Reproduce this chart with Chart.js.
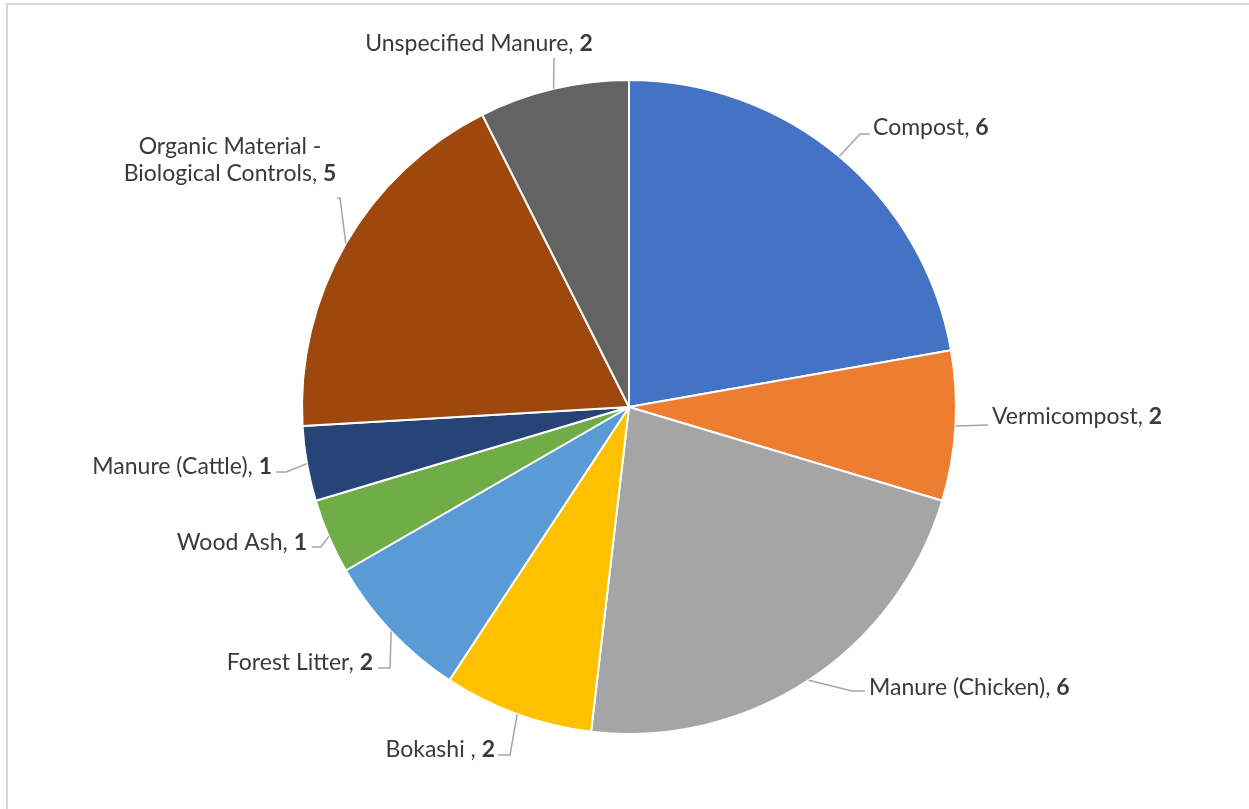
<!DOCTYPE html>
<html>
<head>
<meta charset="utf-8">
<script src="https://cdn.jsdelivr.net/npm/chart.js@4/dist/chart.umd.min.js"></script>
<style>
  html, body { margin: 0; padding: 0; background: #fff; }
  #wrap { width: 1249px; height: 809px; }
</style>
</head>
<body>
<div id="wrap"><canvas id="pie"></canvas></div>
<script>
// data
const categories = ['Compost', 'Vermicompost', 'Manure (Chicken)', 'Bokashi ', 'Forest Litter',
  'Wood Ash', 'Manure (Cattle)', 'Organic Material - Biological Controls', 'Unspecified Manure'];
const counts = [6, 2, 6, 2, 2, 1, 1, 5, 2];
const sliceColors = ['#4472C4', '#ED7D31', '#A5A5A5', '#FFC000', '#5B9BD5',
  '#70AD47', '#264478', '#9E480E', '#636363'];

// where each label sits: text anchor x, y (middle), align, and the leader line's bend points
const labelLayout = [
  { x: 873, y: 128, align: 'left',   bend: [[860, 134], [870, 134]] },
  { x: 992, y: 417, align: 'left',   bend: [[988, 425]] },
  { x: 869, y: 688, align: 'left',   bend: [[852, 691], [865, 691]] },
  { x: 495, y: 750, align: 'right',  bend: [[510, 755], [498, 755]] },
  { x: 373, y: 663, align: 'right',  bend: [[390, 668], [378, 668]] },
  { x: 307, y: 543, align: 'right',  bend: [[321, 547], [312, 547]] },
  { x: 272, y: 467, align: 'right',  bend: [[286, 472], [276, 472]] },
  { x: 230, y: 160, align: 'center', lines: ['Organic Material -', 'Biological Controls, '], bend: [[340, 198], [337, 198]] },
  { x: 479, y: 44,  align: 'center', bend: [[554, 58]] }
];

const FONT = 'Lato, "Open Sans", sans-serif';
const FONT_SIZE = 23;

// draws "Name, N" with the number bold
function drawLabel(ctx, lines, value, x, y, align) {
  const lineH = 27;
  const top = y - (lines.length - 1) * lineH / 2;
  lines.forEach((line, i) => {
    const isLast = i === lines.length - 1;
    ctx.font = FONT_SIZE + 'px ' + FONT;
    const w1 = ctx.measureText(line).width;
    ctx.font = 'bold ' + FONT_SIZE + 'px ' + FONT;
    const w2 = isLast ? ctx.measureText(String(value)).width : 0;
    const total = w1 + w2;
    let left = x;
    if (align === 'right') left = x - total;
    if (align === 'center') left = x - total / 2;
    const ly = top + i * lineH;
    ctx.textAlign = 'left';
    ctx.textBaseline = 'middle';
    ctx.fillStyle = '#3a3a3a';
    ctx.font = FONT_SIZE + 'px ' + FONT;
    ctx.fillText(line, left, ly);
    if (isLast) {
      ctx.font = 'bold ' + FONT_SIZE + 'px ' + FONT;
      ctx.fillText(String(value), left + w1, ly);
    }
  });
}

const frameAndLabels = {
  id: 'frameAndLabels',
  beforeDraw(chart) {
    const ctx = chart.ctx;
    ctx.save();
    ctx.strokeStyle = '#d9d9d9';
    ctx.lineWidth = 2;
    ctx.strokeRect(7, 4, chart.width + 10, chart.height + 10);
    ctx.restore();
  },
  afterDatasetsDraw(chart) {
    const ctx = chart.ctx;
    const meta = chart.getDatasetMeta(0);
    ctx.save();
    meta.data.forEach((arc, i) => {
      const p = arc.getProps(['x', 'y', 'startAngle', 'endAngle', 'outerRadius'], true);
      const mid = (p.startAngle + p.endAngle) / 2;
      const sx = p.x + Math.cos(mid) * p.outerRadius;
      const sy = p.y + Math.sin(mid) * p.outerRadius;
      const lay = labelLayout[i];
      ctx.strokeStyle = '#a6a6a6';
      ctx.lineWidth = 1.5;
      ctx.beginPath();
      ctx.moveTo(sx, sy);
      lay.bend.forEach(b => ctx.lineTo(b[0], b[1]));
      ctx.stroke();
      const lines = lay.lines || [categories[i] + ', '];
      drawLabel(ctx, lines, counts[i], lay.x, lay.y, lay.align);
    });
    ctx.restore();
  }
};

new Chart(document.getElementById('pie'), {
  type: 'pie',
  data: {
    labels: categories,
    datasets: [{
      data: counts,
      backgroundColor: sliceColors,
      borderColor: '#ffffff',
      borderWidth: 2,
      hoverOffset: 0
    }]
  },
  options: {
    responsive: true,
    maintainAspectRatio: false,
    animation: false,
    events: [],
    layout: { padding: { top: 79, bottom: 74, left: 301, right: 292 } },
    plugins: {
      legend: { display: false },
      tooltip: { enabled: false }
    }
  },
  plugins: [frameAndLabels]
});
</script>
</body>
</html>
